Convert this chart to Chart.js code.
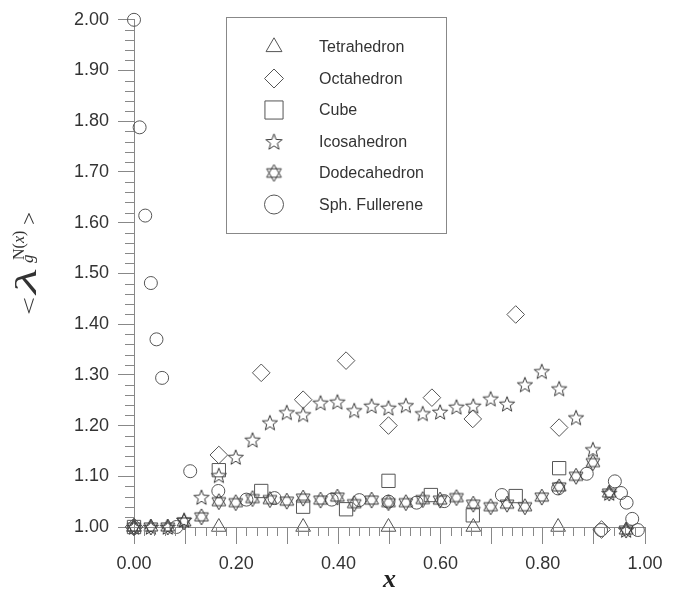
<!DOCTYPE html>
<html>
<head>
<meta charset="utf-8">
<script src="https://cdn.jsdelivr.net/npm/chart.js@4"></script>
<style>
  html, body { margin: 0; background: #fff; }
  #wrap { width: 674px; height: 600px; }
</style>
</head>
<body>
<div id="wrap"><canvas id="chart"></canvas></div>
<script>
// series names, in legend order
const seriesNames = ["Tetrahedron", "Octahedron", "Cube", "Icosahedron", "Dodecahedron", "Sph. Fullerene"];

// values
const tetraX = [0, 0.166, 0.331, 0.498, 0.664, 0.830];
const tetraY = [1.00, 1.00, 1.00, 1.00, 1.00, 1.00];

const octaX = [0, 0.166, 0.249, 0.331, 0.415, 0.498, 0.583, 0.663, 0.747, 0.832, 0.915];
const octaY = [1.00, 1.142, 1.304, 1.251, 1.328, 1.200, 1.255, 1.213, 1.419, 1.196, 0.995];

const cubeX = [0, 0.166, 0.249, 0.331, 0.415, 0.498, 0.581, 0.663, 0.747, 0.832];
const cubeY = [1.00, 1.112, 1.071, 1.040, 1.035, 1.091, 1.063, 1.023, 1.061, 1.116];

const icosaX = [0, 0.033, 0.066, 0.098, 0.132, 0.166, 0.199, 0.232, 0.266, 0.299, 0.331, 0.365, 0.398, 0.431, 0.465,
                0.498, 0.532, 0.565, 0.599, 0.631, 0.664, 0.698, 0.730, 0.765, 0.798, 0.832, 0.865, 0.898, 0.930, 0.963];
const icosaY = [1.00, 1.00, 1.00, 1.014, 1.059, 1.102, 1.138, 1.172, 1.206, 1.226, 1.222, 1.245, 1.247, 1.230, 1.239,
                1.235, 1.240, 1.224, 1.227, 1.237, 1.239, 1.253, 1.243, 1.281, 1.307, 1.273, 1.216, 1.153, 1.067, 0.994];

const dodecaX = icosaX;
const dodecaY = [1.00, 1.00, 1.00, 1.010, 1.020, 1.050, 1.048, 1.056, 1.054, 1.051, 1.057, 1.053, 1.059, 1.046, 1.053,
                 1.048, 1.048, 1.054, 1.053, 1.058, 1.045, 1.040, 1.045, 1.040, 1.059, 1.079, 1.100, 1.127, 1.067, 0.994];

const fullX = [0, 0.011, 0.022, 0.033, 0.044, 0.055, 0.083, 0.110, 0.165, 0.220, 0.275, 0.387, 0.441, 0.498, 0.553,
               0.607, 0.720, 0.830, 0.886, 0.914, 0.941, 0.953, 0.964, 0.975, 0.986];
const fullY = [2.00, 1.788, 1.614, 1.481, 1.370, 1.294, 1.00, 1.110, 1.071, 1.054, 1.057, 1.054, 1.053, 1.050, 1.048,
               1.051, 1.063, 1.076, 1.105, 0.994, 1.090, 1.067, 1.048, 1.016, 0.994];

// axis ticks
const xTicks = [0, 0.1, 0.2, 0.3, 0.4, 0.5, 0.6, 0.7, 0.8, 0.9, 1.0];
const yTicks = [1.0, 1.1, 1.2, 1.3, 1.4, 1.5, 1.6, 1.7, 1.8, 1.9, 2.0];

const ink = "#555";
const darkInk = "#3a3a3a";

function makeStar(size) {
  const c = document.createElement("canvas");
  const s = Math.ceil(size) + 4;
  c.width = c.height = s;
  const g = c.getContext("2d");
  const R = size / 2, r = R * 0.42, cx = s / 2, cy = s / 2 + R * 0.1;
  g.beginPath();
  for (let i = 0; i < 10; i++) {
    const a = -Math.PI / 2 + i * Math.PI / 5;
    const rr = i % 2 ? r : R;
    g.lineTo(cx + rr * Math.cos(a), cy + rr * Math.sin(a));
  }
  g.closePath();
  g.strokeStyle = darkInk;
  g.lineWidth = 1;
  g.stroke();
  return c;
}

function makeHexagram(size) {
  const c = document.createElement("canvas");
  const s = Math.ceil(size) + 4;
  c.width = c.height = s;
  const g = c.getContext("2d");
  const R = size / 2, cx = s / 2, cy = s / 2;
  g.strokeStyle = darkInk;
  g.lineWidth = 1;
  [-Math.PI / 2, Math.PI / 2].forEach(function (start) {
    g.beginPath();
    for (let i = 0; i < 3; i++) {
      const a = start + i * 2 * Math.PI / 3;
      g.lineTo(cx + R * Math.cos(a), cy + R * Math.sin(a));
    }
    g.closePath();
    g.stroke();
  });
  return c;
}

const starImg = makeStar(16);
const hexImg = makeHexagram(16);
const starLegend = makeStar(17);
const hexLegend = makeHexagram(17);

function pts(xs, ys) {
  return xs.map(function (x, i) { return { x: x, y: ys[i] }; });
}

const styles = [
  { style: "triangle", radius: 8.5, legendStyle: "triangle", legendRadius: 9.2 },
  { style: "rectRot", radius: 8.8, legendStyle: "rectRot", legendRadius: 9.5 },
  { style: "rect", radius: 9.4, legendStyle: "rect", legendRadius: 12.8 },
  { style: starImg, radius: 8, legendStyle: starLegend, legendRadius: 9 },
  { style: hexImg, radius: 8, legendStyle: hexLegend, legendRadius: 9 },
  { style: "circle", radius: 6.5, legendStyle: "circle", legendRadius: 9.5 }
];

const allData = [pts(tetraX, tetraY), pts(octaX, octaY), pts(cubeX, cubeY),
                 pts(icosaX, icosaY), pts(dodecaX, dodecaY), pts(fullX, fullY)];

const datasets = seriesNames.map(function (name, i) {
  return {
    label: name,
    data: allData[i],
    pointStyle: styles[i].style,
    pointRadius: styles[i].radius,
    pointHoverRadius: styles[i].radius,
    borderColor: ink,
    backgroundColor: "rgba(0,0,0,0)",
    pointBorderWidth: 1,
    showLine: false,
    clip: false
  };
});

// minor ticks every 0.02 on both axes
const minorTicks = {
  id: "minorTicks",
  afterDraw(chart) {
    const ctx = chart.ctx, xs = chart.scales.x, ys = chart.scales.y;
    ctx.save();
    ctx.strokeStyle = "#888";
    ctx.lineWidth = 1;
    ctx.beginPath();
    for (let k = 0; k <= 50; k++) {
      if (k % 5 === 0) continue;
      const px = Math.round(xs.getPixelForValue(k * 0.02)) + 0.5;
      ctx.moveTo(px, xs.top);
      ctx.lineTo(px, xs.top + 9);
      const py = Math.round(ys.getPixelForValue(1 + k * 0.02)) + 0.5;
      ctx.moveTo(ys.right - 9, py);
      ctx.lineTo(ys.right, py);
    }
    ctx.stroke();
    ctx.restore();
  }
};

// boxed legend inside the plot
const boxLegend = {
  id: "boxLegend",
  afterDraw(chart) {
    const ctx = chart.ctx;
    const left = 226, top = 17, w = 220, h = 216;
    ctx.save();
    ctx.strokeStyle = "#888";
    ctx.lineWidth = 1;
    ctx.strokeRect(left + 0.5, top + 0.5, w, h);
    ctx.font = "16px 'Liberation Sans', Arial, sans-serif";
    ctx.textBaseline = "middle";
    seriesNames.forEach(function (name, i) {
      const y = top + 30 + i * 31.5;
      ctx.fillStyle = "rgba(0,0,0,0)";
      ctx.strokeStyle = ink;
      ctx.lineWidth = 1;
      Chart.helpers.drawPoint(ctx, {
        pointStyle: styles[i].legendStyle,
        radius: styles[i].legendRadius,
        borderWidth: 1
      }, left + 48, y);
      ctx.fillStyle = "#333";
      ctx.fillText(name, left + 93, y + 1);
    });
    ctx.restore();
  }
};

// y title <λ_g^N(x)>, laid out along the rotated baseline
const yTitle = {
  id: "yTitle",
  afterDraw(chart) {
    const ctx = chart.ctx;
    ctx.save();
    ctx.translate(27, 265);
    ctx.rotate(-Math.PI / 2);
    ctx.fillStyle = "#333";
    ctx.textBaseline = "alphabetic";
    const serif = "'Liberation Serif', 'DejaVu Serif', serif";

    function piece(text, font, x0, base, width) {
      ctx.font = font;
      const w = ctx.measureText(text).width;
      ctx.save();
      ctx.translate(x0, base);
      if (width) ctx.scale(width / w, 1);
      ctx.fillText(text, 0, 0);
      ctx.restore();
    }

    piece("<", "22px " + serif, -50, 9, 18);
    piece("λ", "italic 30px " + serif, -29, 9, 26);
    piece("g", "italic 17px " + serif, 2, 6);
    piece("N(", "16px " + serif, 5, -3);
    ctx.font = "16px " + serif;
    const wn = ctx.measureText("N(").width;
    piece("x", "italic 16px " + serif, 5 + wn, -3);
    ctx.font = "italic 16px " + serif;
    const wx = ctx.measureText("x").width;
    piece(")", "16px " + serif, 5 + wn + wx, -3);
    piece(">", "20px " + serif, 40, 9, 13);
    ctx.restore();
  }
};

const tickFont = { family: "'Liberation Sans', Arial, sans-serif", size: 18 };

new Chart(document.getElementById("chart"), {
  type: "scatter",
  data: { datasets: datasets },
  options: {
    responsive: true,
    maintainAspectRatio: false,
    animation: false,
    layout: { padding: { left: 0, right: 29, top: 16, bottom: 2 } },
    plugins: { legend: { display: false }, tooltip: { enabled: false } },
    scales: {
      x: {
        type: "linear",
        min: 0,
        max: 1,
        afterBuildTicks(scale) { scale.ticks = xTicks.map(function (v) { return { value: v }; }); },
        afterFit(scale) { scale.height = 71; },
        ticks: {
          font: tickFont,
          color: "#333",
          padding: 9,
          maxRotation: 0,
          autoSkip: false,
          callback: function (v) { return Math.round(v * 100) % 20 === 0 ? v.toFixed(2) : ""; }
        },
        grid: { drawOnChartArea: false, tickLength: 17, tickColor: "#888" },
        border: { color: "#888" },
        title: {
          display: true,
          text: "x",
          color: "#222",
          font: { family: "'Liberation Serif', serif", style: "italic", weight: "bold", size: 26 },
          padding: { top: 0, bottom: 2 }
        }
      },
      y: {
        type: "linear",
        min: 1,
        max: 2,
        afterBuildTicks(scale) { scale.ticks = yTicks.map(function (v) { return { value: v }; }); },
        afterFit(scale) { scale.width = 134; },
        ticks: {
          font: tickFont,
          color: "#333",
          padding: 9,
          callback: function (v) { return v.toFixed(2); }
        },
        grid: { drawOnChartArea: false, tickLength: 16, tickColor: "#888" },
        border: { color: "#888" }
      }
    }
  },
  plugins: [minorTicks, boxLegend, yTitle]
});
</script>
</body>
</html>
